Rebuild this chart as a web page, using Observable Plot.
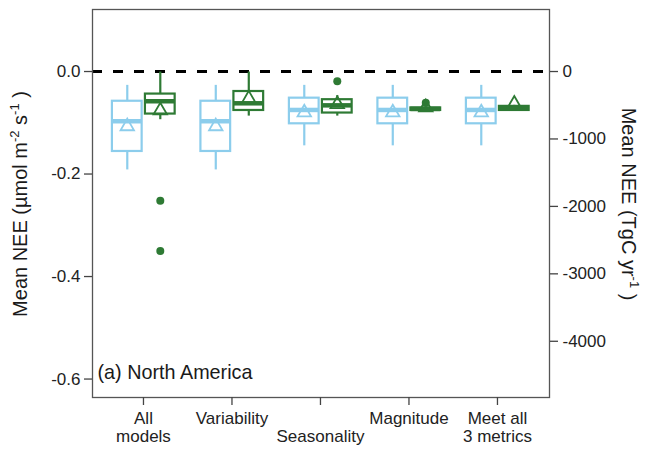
<!DOCTYPE html>
<html>
<head>
<meta charset="utf-8">
<script src="https://cdn.jsdelivr.net/npm/d3@7"></script>
<script src="https://cdn.jsdelivr.net/npm/@observablehq/plot@0.6"></script>
<style>
  html, body { margin: 0; padding: 0; background: #fff; }
  #chart { width: 647px; height: 450px; }
</style>
</head>
<body>
<div id="chart"></div>
<script>
// ---- data ----
const categories = ["All\nmodels", "Variability", "\nSeasonality", "Magnitude", "Meet all\n3 metrics"];
const seriesNames = ["series A", "series B"];
const seriesColors = ["#8ccdec", "#2e7a34"];

// series A (light blue)
const aLow  = [-0.192, -0.192, -0.145, -0.145, -0.145];
const aQ1   = [-0.156, -0.156, -0.102, -0.102, -0.102];
const aMed  = [-0.097, -0.097, -0.075, -0.075, -0.075];
const aQ3   = [-0.058, -0.058, -0.052, -0.052, -0.052];
const aHigh = [-0.027, -0.027, -0.027, -0.027, -0.027];
const aMean = [-0.107, -0.107, -0.080, -0.080, -0.080];

// series B (dark green)
const bLow  = [-0.094, -0.087, -0.087, -0.078, -0.078];
const bQ1   = [-0.083, -0.076, -0.081, -0.076, -0.076];
const bMed  = [-0.058, -0.062, -0.066, -0.073, -0.072];
const bQ3   = [-0.044, -0.039, -0.055, -0.071, -0.068];
const bHigh = [-0.001, -0.001, -0.047, -0.069, -0.066];
const bMean = [-0.076, -0.053, -0.064, -0.070, -0.063];

// outliers of series B
const outlierCategory = [0, 0, 2, 3];
const outlierValue = [-0.252, -0.350, -0.019, -0.061];

// axis ticks
const leftTicks = [0, -0.2, -0.4, -0.6];
const rightTicks = [0, -1000, -2000, -3000, -4000];
const tgcPerUnit = 7600; // TgC yr-1 per µmol m-2 s-1 (right axis scaling)
const annotation = "(a) North America";

// ---- layout ----
const dodge = [-0.183, 0.19];
const half = 0.168;

const rows = [];
[[aLow, aQ1, aMed, aQ3, aHigh, aMean], [bLow, bQ1, bMed, bQ3, bHigh, bMean]].forEach((s, k) => {
  categories.forEach((c, i) => {
    rows.push({
      series: seriesNames[k],
      x: i + 1 + dodge[k],
      low: s[0][i], q1: s[1][i], med: s[2][i], q3: s[3][i], high: s[4][i], mean: s[5][i]
    });
  });
});
const outliers = outlierCategory.map((c, j) => ({series: seriesNames[1], x: c + 1 + dodge[1], v: outlierValue[j]}));

const plot = Plot.plot({
  width: 647,
  height: 450,
  marginLeft: 92,
  marginRight: 98,
  marginTop: 9,
  marginBottom: 53,
  style: {fontFamily: "'Liberation Sans', Arial, sans-serif", fontSize: "17px", color: "#222", background: "#fff"},
  x: {type: "linear", domain: [0.424, 5.588]},
  y: {domain: [-0.636, 0.121]},
  color: {domain: seriesNames, range: seriesColors},
  marks: [
    Plot.ruleY([0], {stroke: "#000", strokeWidth: 2.8, strokeDasharray: "10,11"}),
    Plot.ruleX(rows, {x: "x", y1: "high", y2: "q3", stroke: "series", strokeWidth: 2.2}),
    Plot.ruleX(rows, {x: "x", y1: "q1", y2: "low", stroke: "series", strokeWidth: 2.2}),
    Plot.rect(rows, {x1: d => d.x - half, x2: d => d.x + half, y1: "q1", y2: "q3", fill: "#fff", stroke: "series", strokeWidth: 2.2}),
    Plot.ruleY(rows, {y: "med", x1: d => d.x - half, x2: d => d.x + half, stroke: "series", strokeWidth: 4.5}),
    Plot.dot(rows, {x: "x", y: "mean", symbol: "triangle", r: 5, stroke: "series", fill: "none", strokeWidth: 1.8}),
    Plot.dot(outliers, {x: "x", y: "v", r: 4, fill: "series", stroke: null}),
    Plot.frame({stroke: "#555", strokeWidth: 1.3}),
    Plot.axisY(leftTicks, {anchor: "left", tickSize: 8, tickPadding: 4, tickFormat: d => d.toFixed(1), label: null, stroke: "#444", strokeWidth: 1.3}),
    Plot.axisY(rightTicks.map(t => t / tgcPerUnit), {anchor: "right", tickSize: 8, tickPadding: 5, tickFormat: d => String(Math.round(d * tgcPerUnit)), label: null, stroke: "#444", strokeWidth: 1.3}),
    Plot.axisX(categories.map((c, i) => i + 1), {anchor: "bottom", tickSize: 8, tickPadding: 6, tickFormat: d => categories[d - 1], lineHeight: 1.05, label: null, stroke: "#444", strokeWidth: 1.3}),
    Plot.text([annotation], {frameAnchor: "bottom-left", dx: 5, dy: -19, textAnchor: "start", fontSize: 19.8, fill: "#1a1a1a"})
  ]
});

const svg = d3.select(plot);
function title(x, y, rot, parts) {
  const t = svg.append("text")
    .attr("transform", `translate(${x},${y}) rotate(${rot})`)
    .attr("text-anchor", "middle")
    .attr("font-size", 20)
    .attr("fill", "#1a1a1a");
  let raised = false;
  parts.forEach(p => {
    const s = t.append("tspan").text(p.t);
    if (p.sup) {
      s.attr("font-size", 13).attr("dy", -8);
      raised = true;
    } else if (raised) {
      s.attr("dy", 8);
      raised = false;
    }
  });
}
title(27, 204, -90, [{t: "Mean NEE (µmol m"}, {t: "-2", sup: true}, {t: " s"}, {t: "-1", sup: true}, {t: " )"}]);
title(622, 204, 90, [{t: "Mean NEE (TgC yr"}, {t: "-1", sup: true}, {t: " )"}]);

document.getElementById("chart").appendChild(plot);
</script>
</body>
</html>
